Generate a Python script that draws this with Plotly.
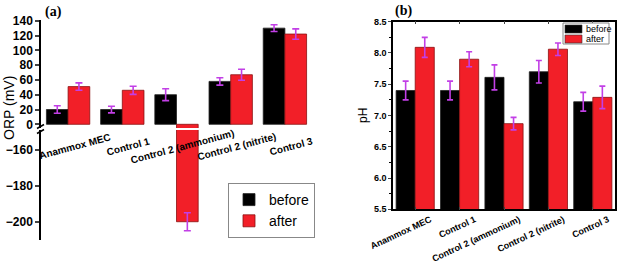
import plotly.graph_objects as go

categories = ["Anammox MEC", "Control 1", "Control 2 (ammonium)", "Control 2 (nitrite)", "Control 3"]
orp_before = [20, 20, 40, 58, 130]
orp_before_err = [5, 4.5, 8, 5, 4.5]
orp_after = [51, 46, -200, 67, 122]
orp_after_err = [5, 5.5, 5, 7.5, 7]
ph_before = [7.40, 7.40, 7.61, 7.70, 7.22]
ph_before_err = [0.15, 0.15, 0.20, 0.18, 0.15]
ph_after = [8.09, 7.90, 6.87, 8.06, 7.29]
ph_after_err = [0.16, 0.12, 0.10, 0.10, 0.18]
orp_top_ticks = [0, 20, 40, 60, 80, 100, 120, 140]
orp_bottom_ticks = [-160, -180, -200]
ph_ticks = [5.5, 6.0, 6.5, 7.0, 7.5, 8.0, 8.5]
series_names = ["before", "after"]

BLACK = "#000000"
RED = "#f21f28"
ERR = "#c23fe6"
W, H = 617, 269
FONT = "Liberation Sans"


def px(x):
    return x / W


def py(y):
    return 1 - y / H


fig = go.Figure()

def err(arr, w):
    return dict(type="data", array=arr, color=ERR, thickness=1.6, width=w)

# left chart, top and bottom segments of the broken axis
for xa, ya, show in (("x", "y", True), ("x2", "y2", False)):
    fig.add_trace(go.Bar(x=categories, y=orp_before, name=series_names[0],
                         marker=dict(color=BLACK, line=dict(color="#222", width=0.8)),
                         error_y=err(orp_before_err, 3.5), width=0.4, offset=-0.4, xaxis=xa, yaxis=ya,
                         showlegend=show, legend="legend"))
    fig.add_trace(go.Bar(x=categories, y=orp_after, name=series_names[1],
                         marker=dict(color=RED, line=dict(color="#8a1010", width=0.8)),
                         error_y=err(orp_after_err, 3.5), width=0.4, offset=0.0, xaxis=xa, yaxis=ya,
                         showlegend=show, legend="legend"))

# right chart
fig.add_trace(go.Bar(x=categories, y=ph_before, name=series_names[0],
                     marker=dict(color=BLACK, line=dict(color="#222", width=0.8)),
                     error_y=err(ph_before_err, 3), width=0.43, offset=-0.43, xaxis="x3", yaxis="y3",
                     showlegend=False))
fig.add_trace(go.Bar(x=categories, y=ph_after, name=series_names[1],
                     marker=dict(color=RED, line=dict(color="#8a1010", width=0.8)),
                     error_y=err(ph_after_err, 3), width=0.43, offset=0.0, xaxis="x3", yaxis="y3",
                     showlegend=False))

tickfont_l = dict(family=FONT, size=12, color="black", weight="bold")
tickfont_r = dict(family=FONT, size=9, color="black", weight="bold")

fig.update_layout(
    width=W, height=H, margin=dict(l=0, r=0, t=0, b=0, autoexpand=False),
    paper_bgcolor="white", plot_bgcolor="white",
    barmode="group",
    xaxis=dict(domain=[px(41), px(312)], anchor="y", type="category", range=[-0.5, 4.5], automargin=False,
               showline=False, showticklabels=False, ticks="", showgrid=False, zeroline=False),
    yaxis=dict(domain=[py(128), py(20)], anchor="x", range=[-5, 141], tickvals=orp_top_ticks, automargin=False,
               showline=True, linecolor="black", linewidth=1.5, ticks="outside", ticklen=4, tickwidth=1.5,
               tickfont=tickfont_l, showgrid=False, zeroline=False),
    xaxis2=dict(domain=[px(41), px(312)], anchor="y2", type="category", range=[-0.5, 4.5], automargin=False,
                showline=False, showticklabels=False, ticks="", showgrid=False, zeroline=False),
    yaxis2=dict(domain=[py(240), py(130)], anchor="x2", range=[-210.2, -148.8], tickvals=orp_bottom_ticks,
                automargin=False,
                showline=True, linecolor="black", linewidth=1.5, ticks="outside", ticklen=4, tickwidth=1.5,
                tickfont=tickfont_l, showgrid=False, zeroline=False),
    xaxis3=dict(domain=[px(393), px(615)], anchor="y3", type="category", range=[-0.5, 4.5], automargin=False,
                showline=True, linecolor="black", linewidth=1.5, mirror="allticks", ticks="inside", ticklen=3,
                tickangle=-25, ticklabelshift=15, tickfont=tickfont_r, showgrid=False, zeroline=False),
    yaxis3=dict(domain=[py(209.3), py(21.7)], anchor="x3", range=[5.5, 8.5], tickvals=ph_ticks, automargin=False,
                ticktext=[f"{v:.1f}" for v in ph_ticks],
                showline=True, linecolor="black", linewidth=1.5, mirror=True, ticks="outside", ticklen=3,
                tickwidth=1.2, tickfont=tickfont_r, showgrid=False, zeroline=False,
                minor=dict(ticks="outside", ticklen=2, dtick=0.25, tickcolor="black")),
    legend=dict(x=px(228), y=py(183), xanchor="left", yanchor="top", bgcolor="white",
                bordercolor="#888", borderwidth=1, font=dict(family=FONT, size=14, color="black"),
                tracegroupgap=0, itemwidth=30),
)

# rotated category labels for left chart
for c in categories:
    fig.add_annotation(x=c, xref="x", y=py(146), yref="paper", text=c, showarrow=False, textangle=-15,
                       xshift=6, xanchor="center", yanchor="middle",
                       font=dict(family=FONT, size=10, color="black", weight="bold"))

# titles and panel labels
def label(x, y, text, size, family=FONT, angle=0, bold=False, xanchor="center"):
    fig.add_annotation(x=px(x), y=py(y), xref="paper", yref="paper", text=text, textangle=angle,
                       showarrow=False, xanchor=xanchor, yanchor="middle",
                       font=dict(family=family, size=size, color="black", weight="bold" if bold else "normal"))

label(9, 108, "ORP (mV)", 14, angle=-90)
label(363, 116, "pH", 12, angle=-90)
label(53, 12, "(a)", 14, family="Liberation Serif", bold=True)
label(403, 11, "(b)", 14, family="Liberation Serif", bold=True)

# compact legend box for panel (b)
fig.add_shape(type="rect", xref="paper", yref="paper", x0=px(563), x1=px(609), y0=py(44), y1=py(23),
              line=dict(color="#888", width=1), fillcolor="white", layer="above")
for (y0, y1), col, name in (((25, 33), BLACK, series_names[0]), ((35, 43), RED, series_names[1])):
    fig.add_shape(type="rect", xref="paper", yref="paper", x0=px(565), x1=px(582), y0=py(y1), y1=py(y0),
                  line=dict(color="#333", width=0.6), fillcolor=col, layer="above")
    label(584, (y0 + y1) / 2, name, 9, xanchor="left")

# axis break marks
for yb in (126.5, 131.5):
    fig.add_shape(type="line", xref="paper", yref="paper", x0=px(37), x1=px(44), y0=py(yb + 2), y1=py(yb - 2),
                  line=dict(color="black", width=1.5))

fig.write_html("out.html", config={"displayModeBar": False},
               post_script="document.body.style.margin='0';document.body.style.overflow='hidden';")
